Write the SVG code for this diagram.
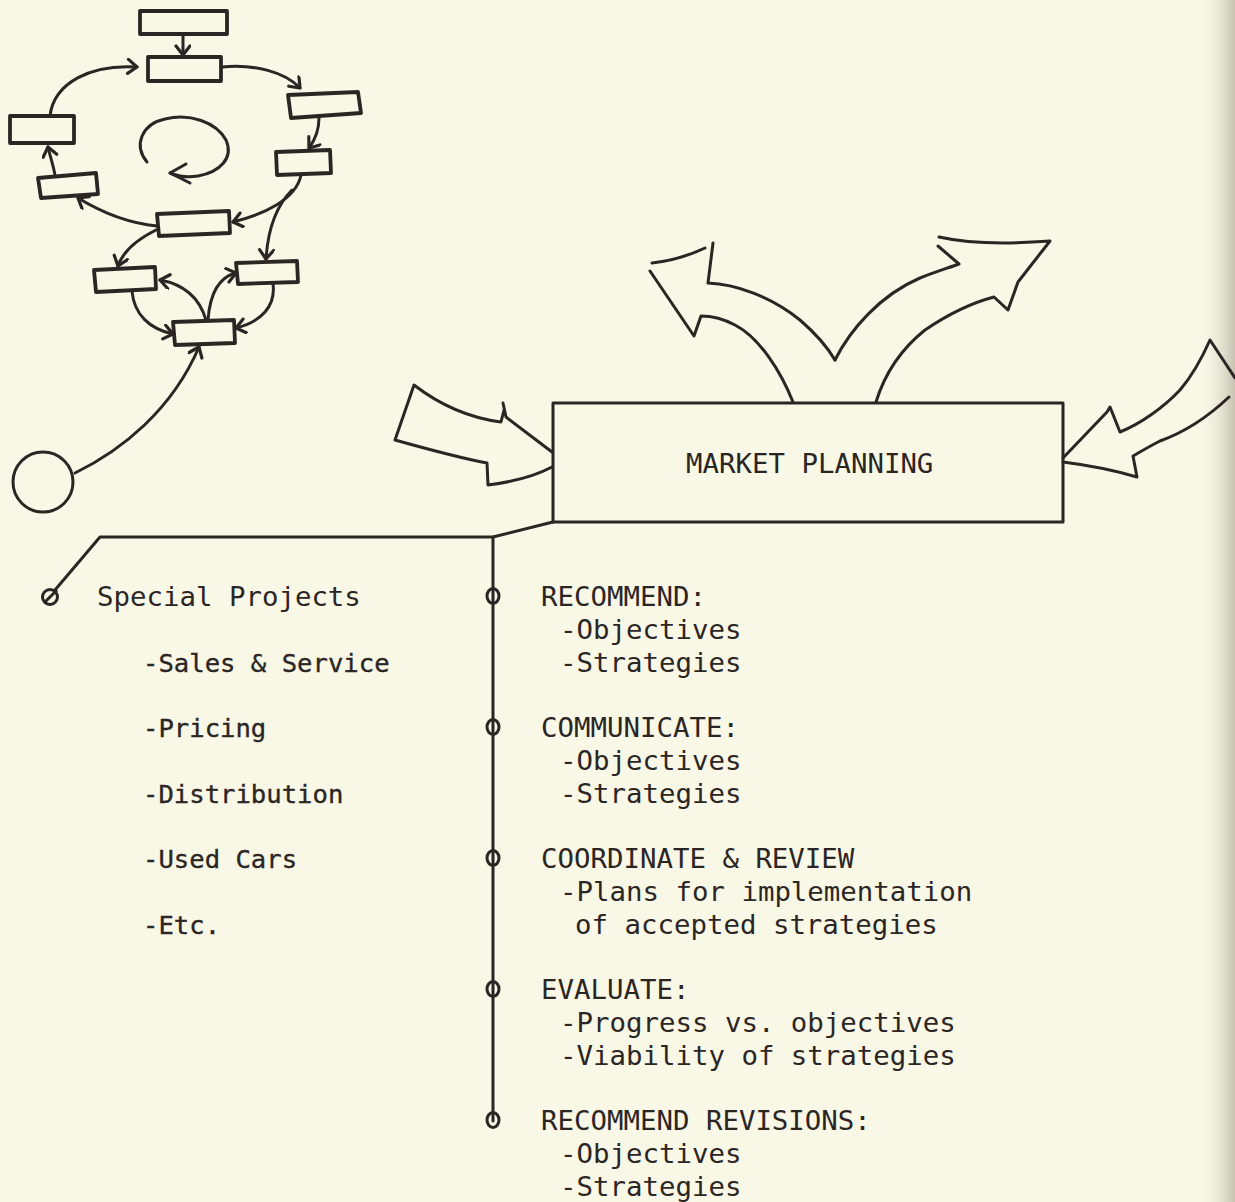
<svg xmlns="http://www.w3.org/2000/svg" width="1235" height="1202" viewBox="0 0 1235 1202">
  <defs>
    <style>
      .ink { fill: none; stroke: #2b2624; stroke-width: 3; stroke-linecap: round; stroke-linejoin: round; }
      .thick { fill: none; stroke: #2b2624; stroke-width: 3.8; stroke-linecap: round; stroke-linejoin: round; }
      .txt { font-family: "DejaVu Sans Mono", "Liberation Mono", monospace; font-size: 27.4px; fill: #2b2624; }
      .sub { font-size: 25.6px; stroke: #2b2624; stroke-width: 0.35px; }
      .bullet { fill: none; stroke: #2b2624; stroke-width: 3; }
    </style>
    <marker id="barb" markerUnits="userSpaceOnUse" markerWidth="20" markerHeight="20" refX="12" refY="8" orient="auto">
      <path d="M3,1 L12,8 L3,15" fill="none" stroke="#2b2624" stroke-width="3.2" stroke-linecap="round" stroke-linejoin="round"/>
    </marker>
    <linearGradient id="edge" x1="0" y1="0" x2="1" y2="0">
      <stop offset="0" stop-color="#f9f7e6" stop-opacity="0"/>
      <stop offset="1" stop-color="#c4c1b0"/>
    </linearGradient>
  </defs>

  <!-- paper -->
  <rect width="1235" height="1202" fill="#f9f7e6"/>
  <rect x="1198" y="0" width="37" height="1202" fill="url(#edge)"/>

  <!-- small cycle sketch: boxes -->
  <g id="cycle-boxes" class="thick">
    <g id="c1"><rect x="140" y="11" width="87" height="23"/></g>
    <g id="c2"><rect x="148" y="57" width="73" height="24"/></g>
    <g id="c3"><polygon points="288,95 358,92 361,113 291,118"/></g>
    <g id="c4"><polygon points="276,152 330,150 331,173 277,175"/></g>
    <g id="c5"><polygon points="157,214 229,211 230,233 159,236"/></g>
    <g id="c6"><polygon points="38,178 96,173 98,194 41,198"/></g>
    <g id="c7"><rect x="10" y="116" width="64" height="27"/></g>
    <g id="c8"><polygon points="94,270 155,267 156,289 96,292"/></g>
    <g id="c9"><polygon points="236,263 297,261 298,282 238,284"/></g>
    <g id="c10"><polygon points="173,322 234,320 235,343 175,345"/></g>
  </g>
  <g id="start-node"><circle cx="43" cy="482" r="30" class="ink" stroke-width="2.6"/></g>

  <!-- cycle sketch connectors -->
  <g id="cycle-links" class="ink" stroke-width="3.4">
    <path d="M183,35 L183,55" marker-end="url(#barb)"/>
    <path d="M222,67 C255,64 285,72 300,88" marker-end="url(#barb)"/>
    <path d="M319,118 C319,131 315,140 309,148" marker-end="url(#barb)"/>
    <path d="M301,175 C296,200 262,215 233,222" marker-end="url(#barb)"/>
    <path d="M292,190 C276,206 268,228 266,259" marker-end="url(#barb)"/>
    <path d="M157,226 C126,223 101,212 78,198" marker-end="url(#barb)"/>
    <path d="M55,175 C53,164 50,156 48,147" marker-end="url(#barb)"/>
    <path d="M50,116 C54,82 92,64 137,67" marker-end="url(#barb)"/>
    <path d="M156,230 C136,240 123,251 118,266" marker-end="url(#barb)"/>
    <path d="M132,291 C134,315 150,329 173,334" marker-end="url(#barb)"/>
    <path d="M206,320 C199,296 182,284 160,280" marker-end="url(#barb)"/>
    <path d="M208,320 C210,292 220,277 236,273" marker-end="url(#barb)"/>
    <path d="M273,284 C276,306 261,322 236,328" marker-end="url(#barb)"/>
    <path d="M75,473 C122,450 172,410 199,347" marker-end="url(#barb)"/>
    <!-- circular arrow in the middle of the cycle -->
    <path d="M147,162 C133,145 142,124 165,119 C190,113 216,122 226,140 C234,158 220,172 198,176 C186,178 177,176 170,173"/>
    <path d="M186,164 L170,173 L190,183"/>
  </g>

  <!-- central box -->
  <g id="market-planning">
    <rect x="553" y="403" width="510" height="119" class="ink"/>
    <text x="686" y="473" class="txt">MARKET PLANNING</text>
  </g>

  <!-- block arrows around the central box -->
  <g id="block-arrows" class="ink" stroke-width="3">
    <!-- incoming from the left -->
    <path d="M552,452 L506,417 L503,403 M504,410 L501,422 C470,418 440,405 414,385 L395,440 C420,447 460,458 487,463 L488,485 C512,482 535,476 552,467"/>
    <!-- outgoing up-left -->
    <path d="M793,402 C781,372 760,338 735,325 C722,318 710,316 701,316 L694,336 L650,271"/>
    <path d="M652,263 C670,261 690,255 705,248"/>
    <path d="M713,243 L708,283 C735,284 770,296 800,320 C815,333 828,348 835,360"/>
    <!-- outgoing up-right -->
    <path d="M835,360 C850,330 880,295 920,278 C935,272 948,268 959,264 L938,246"/>
    <path d="M939,237 C970,244 1010,244 1050,241 L1018,282 L1008,310 L994,297 C975,302 950,313 925,330 C900,350 884,376 876,402"/>
    <!-- incoming from the right -->
    <path d="M1063,458 L1107,412 L1110,407 L1120,432 C1140,424 1163,408 1180,390 C1192,376 1202,358 1210,340 L1235,378"/>
    <path d="M1229,397 C1210,415 1185,432 1160,441 C1150,446 1140,452 1133,456 L1137,477 C1120,472 1095,466 1063,462"/>
  </g>

  <!-- lines linking the box to the task lists -->
  <g id="connectors" class="ink" stroke-width="3">
    <path d="M553,522 L493,537 L100,537 L55,590"/>
    <path d="M493,537 L493,1121"/>
  </g>

  <!-- special projects list -->
  <g id="special-projects">
    <circle cx="50" cy="597" r="7.5" class="bullet"/>
    <path d="M44,603 L57,590" class="bullet" stroke-width="2.4"/>
    <text x="97" y="606" class="txt">Special Projects</text>
    <text x="143" y="671.5" class="txt sub">-Sales &amp; Service</text>
    <text x="143" y="737" class="txt sub">-Pricing</text>
    <text x="143" y="802.5" class="txt sub">-Distribution</text>
    <text x="143" y="868" class="txt sub">-Used Cars</text>
    <text x="143" y="933.5" class="txt sub">-Etc.</text>
  </g>

  <!-- planning steps -->
  <g id="step-recommend">
    <ellipse cx="493" cy="596" rx="6" ry="7.5" class="bullet"/>
    <text x="541" y="606" class="txt">RECOMMEND:</text>
    <text x="560" y="638.75" class="txt">-Objectives</text>
    <text x="560" y="671.5" class="txt">-Strategies</text>
  </g>
  <g id="step-communicate">
    <ellipse cx="493" cy="727" rx="6" ry="7.5" class="bullet"/>
    <text x="541" y="737" class="txt">COMMUNICATE:</text>
    <text x="560" y="769.75" class="txt">-Objectives</text>
    <text x="560" y="802.5" class="txt">-Strategies</text>
  </g>
  <g id="step-coordinate">
    <ellipse cx="493" cy="858" rx="6" ry="7.5" class="bullet"/>
    <text x="541" y="868" class="txt">COORDINATE &amp; REVIEW</text>
    <text x="560" y="900.75" class="txt">-Plans for implementation</text>
    <text x="575" y="933.5" class="txt">of accepted strategies</text>
  </g>
  <g id="step-evaluate">
    <ellipse cx="493" cy="989" rx="6" ry="7.5" class="bullet"/>
    <text x="541" y="999" class="txt">EVALUATE:</text>
    <text x="560" y="1031.75" class="txt">-Progress vs. objectives</text>
    <text x="560" y="1064.5" class="txt">-Viability of strategies</text>
  </g>
  <g id="step-revise">
    <ellipse cx="493" cy="1120" rx="6" ry="7.5" class="bullet"/>
    <text x="541" y="1130" class="txt">RECOMMEND REVISIONS:</text>
    <text x="560" y="1162.75" class="txt">-Objectives</text>
    <text x="560" y="1195.5" class="txt">-Strategies</text>
  </g>
</svg>
